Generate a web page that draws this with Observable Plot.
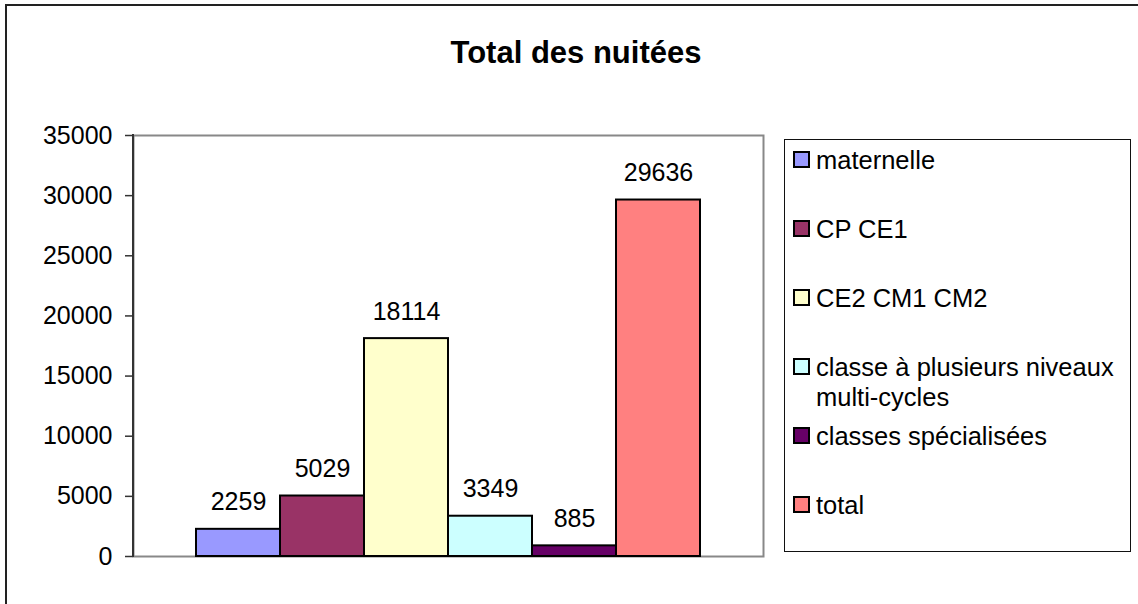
<!DOCTYPE html>
<html>
<head>
<meta charset="utf-8">
<script src="https://cdn.jsdelivr.net/npm/d3@7"></script>
<script src="https://cdn.jsdelivr.net/npm/@observablehq/plot@0.6"></script>
<style>
  html, body { margin: 0; padding: 0; background: #fff; }
  body { width: 1138px; height: 604px; overflow: hidden; position: relative;
         font-family: "Liberation Sans", Arial, sans-serif; color: #000; }
  #outer { position: absolute; left: 5px; top: 4px; width: 1160px; height: 640px;
           border: 2px solid #222; box-sizing: border-box; }
  #title { position: absolute; left: 576px; top: 37px; transform: translateX(-50%);
           font-size: 31px; line-height: 31px; font-weight: bold; white-space: nowrap; }
  #chart { position: absolute; left: 0; top: 0; }
  #legend { position: absolute; left: 784px; top: 139px; width: 347px; height: 413px;
            border: 1.5px solid #111; box-sizing: border-box; background: #fff; }
  .item { position: absolute; left: 0; width: 340px; }
  .sw { position: absolute; left: 8px; top: 6px; width: 17px; height: 17px;
        border: 2px solid #000; box-sizing: border-box; }
  .lab { position: absolute; left: 31px; top: 0; width: 312px; font-size: 25.5px; line-height: 30px; }
</style>
</head>
<body>
<div id="outer"></div>
<div id="title"></div>
<div id="chart"></div>
<div id="legend"></div>
<script>
const chartTitle = "Total des nuitées";
const categories = ["maternelle", "CP CE1", "CE2 CM1 CM2", "classe à plusieurs niveaux multi-cycles", "classes spécialisées", "total"];
const values = [2259, 5029, 18114, 3349, 885, 29636];
const colors = ["#9999FF", "#993366", "#FFFFCC", "#CCFFFF", "#660066", "#FF8080"];
const yTicks = [0, 5000, 10000, 15000, 20000, 25000, 30000, 35000];

const data = categories.map((c, i) => ({category: c, value: values[i]}));

document.getElementById("title").textContent = chartTitle;

const leftLine = (index, scales, values, dims) => {
  const l = d3.create("svg:line")
    .attr("x1", dims.marginLeft).attr("x2", dims.marginLeft)
    .attr("y1", dims.marginTop - 1).attr("y2", dims.height - dims.marginBottom + 1)
    .attr("stroke", "#333").attr("stroke-width", 2);
  return l.node();
};

const plot = Plot.plot({
  width: 770,
  height: 604,
  marginLeft: 133,
  marginRight: 7,
  marginTop: 135,
  marginBottom: 48,
  style: {fontFamily: "'Liberation Sans', Arial, sans-serif", fontSize: "25px", color: "#000", background: "transparent"},
  x: {domain: categories, axis: null, paddingInner: 0, paddingOuter: 0.75},
  y: {domain: [0, 35000], axis: null},
  color: {domain: categories, range: colors},
  marks: [
    Plot.frame({stroke: "#888", strokeWidth: 2}),
    Plot.barY(data, {x: "category", y: "value", fill: "category", stroke: "#000", strokeWidth: 2}),
    leftLine,
    Plot.axisY({ticks: yTicks, label: null, tickSize: 8, tickPadding: 13, tickFormat: d => String(d), stroke: "#333", strokeWidth: 1.5, fontSize: 25, fill: "#000"}),
    Plot.text(data, {x: "category", y: "value", text: d => String(d.value), dy: -27, fontSize: 25, fill: "#000"})
  ]
});
document.getElementById("chart").appendChild(plot);

const legend = document.getElementById("legend");
categories.forEach((c, i) => {
  const item = document.createElement("div");
  item.className = "item";
  item.style.top = (5 + 69 * i) + "px";
  const sw = document.createElement("div");
  sw.className = "sw";
  sw.style.background = colors[i];
  const lab = document.createElement("div");
  lab.className = "lab";
  lab.textContent = c;
  item.appendChild(sw);
  item.appendChild(lab);
  legend.appendChild(item);
});
</script>
</body>
</html>
